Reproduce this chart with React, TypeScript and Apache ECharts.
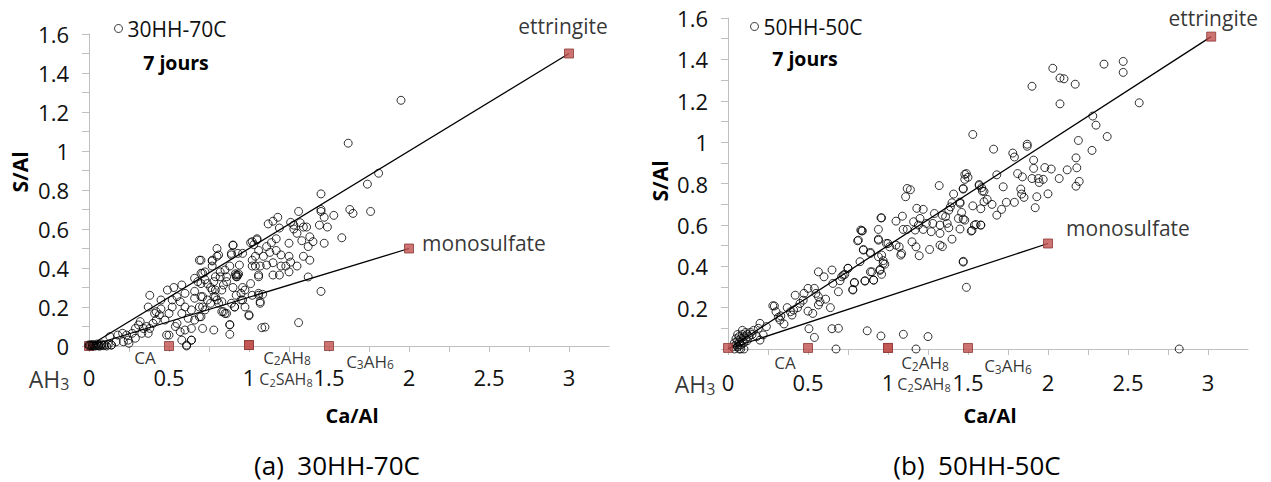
import React, { useEffect, useRef } from 'react';
import * as echarts from 'echarts';

const FONT = '"Open Sans", "Noto Sans", sans-serif';

// 30HH-70C, 7 jours : [Ca/Al, S/Al]
const points30: number[][] = [
  [0,0],[0.01,0.003],[0.02,0],[0.03,0.005],[0.04,0],[0.05,0.003],[0.06,0.005],[0.07,0],[0.08,0.004],[0.09,0.002],[0.1,0.005],[0.11,0],[0.12,0.006],[0.14,0.005],[0.02,0.008],[0.05,0.01],[0.08,0.01],[0,0.006],[0.03,0],[0.06,0],
  [0.17,0.022],[0.13,0.048],[0.18,0.056],[0.21,0.065],[0.25,0.014],[0.235,0.056],[0.27,0.065],[0.29,0.09],[0.31,0.108],[0.32,0.125],[0.29,0.04],[0.37,0.2],[0.36,0.1],[0.38,0.09],[0.37,0.065],[0.4,0.116],[0.42,0.133],[0.42,0.176],[0.44,0.16],[0.45,0.19],[0.49,0.287],[0.53,0.3],[0.58,0.313],[0.57,0.227],[0.52,0.2],[0.5,0.167],[0.475,0.133],[0.5,0.056],[0.55,0.116],[0.54,0.1],[0.58,0.167],[0.6,0.2],[0.64,0.185],[0.62,0.142],[0.66,0.133],[0.6,0.082],[0.64,0.09],[0.57,0.073],[0.58,0.03],[0.61,0.005],[0.64,0.03],[0.69,0.15],[0.71,0.09],[0.78,0.082],[0.88,0.108],[0.88,0.06],[1.0,0.155],[1.08,0.094],[0.69,0.44],[0.77,0.436],[0.8,0.5],[0.81,0.467],[0.7,0.373],[0.725,0.34],[0.77,0.287],[0.8,0.236],[0.83,0.176],[0.85,0.167],[0.9,0.518],[0.93,0.475],[0.89,0.475],[0.92,0.355],[1.02,0.535],[1.05,0.544],[1.06,0.49],[1.02,0.44],[1.04,0.41],[1.06,0.355],[1.06,0.27],[1.07,0.227],[0.975,0.287],[0.95,0.236],[0.91,0.2],[0.975,0.2],[0.38,0.26],[0.41,0.167],[0.45,0.236],[0.52,0.236],[0.55,0.253],[0.6,0.27],[0.66,0.28],[0.66,0.245],[0.7,0.253],[0.74,0.236],[0.71,0.2],[0.66,0.347],[0.68,0.33],[0.725,0.38],[0.76,0.3],[0.79,0.253],[0.81,0.219],[0.83,0.287],[0.86,0.33],[0.85,0.39],[0.82,0.38],[0.77,0.41],[0.79,0.355],[0.69,0.2],[0.33,0.065],[0.34,0.09],[0.245,0.03],[0.215,0.022],[0.485,0.056],[0.61,0],[0.64,0.03],[0.14,0.005],[0.88,0.11],
  [1.31,0.69],[1.45,0.69],[1.47,0.66],[1.44,0.62],[1.37,0.354],[1.45,0.28],[1.31,0.12],[1.1,0.097],[1.0,0.16],[1.26,0.634],[1.28,0.62],[1.32,0.632],[1.34,0.61],[1.36,0.61],[1.28,0.6],[1.33,0.54],[1.38,0.56],[1.4,0.535],[1.37,0.51],[1.3,0.578],[1.19,0.605],[1.15,0.64],[1.18,0.66],[1.12,0.626],[1.05,0.55],[1.01,0.53],[1.03,0.52],[1.11,0.51],[1.14,0.53],[1.17,0.55],[0.9,0.516],[0.8,0.46],[0.77,0.44],[0.7,0.44],[1.17,0.49],[1.2,0.467],[1.25,0.46],[1.26,0.43],[1.23,0.41],[1.2,0.41],[1.3,0.41],[1.34,0.46],[1.38,0.44],[1.25,0.38],[1.19,0.364],[1.15,0.364],[1.25,0.527],[0.93,0.364],[0.92,0.364],[0.915,0.37],[0.925,0.355],[0.935,0.37],[1.06,0.364],[1.07,0.41],[1.11,0.415],[1.15,0.427],[1.02,0.41],[1.04,0.46],[1.09,0.46],[1.13,0.48],[0.96,0.475],[0.89,0.467],[0.94,0.415],[0.88,0.41],[0.86,0.355],[0.82,0.355],[0.78,0.33],[0.74,0.32],[0.84,0.313],[0.79,0.287],[0.9,0.3],[0.96,0.3],[1.01,0.32],[0.95,0.27],[0.92,0.26],[1.02,0.26],[0.96,0.236],[0.89,0.219],[0.83,0.227],[0.78,0.253],[0.76,0.219],[0.71,0.253],[0.84,0.176],[0.86,0.167],[0.91,0.2],[1.07,0.219],[1.06,0.26],[1.085,0.265],[0.71,0.373],[0.7,0.32],[0.725,0.185],[0.7,0.15],
  [1.95,1.26],[1.62,1.04],[1.81,0.886],[1.74,0.83],[1.63,0.7],[1.65,0.68],[1.76,0.69],[1.53,0.67],[1.49,0.61],[1.58,0.555],[1.47,0.527],[1.45,0.78],[1.45,0.7]
];

// 50HH-50C, 7 jours : [Ca/Al, S/Al]
const points50: number[][] = [
  [0.03,0.01],[0.04,0.03],[0.05,0.02],[0.05,0.05],[0.06,0.04],[0.06,0.01],[0.07,0.03],[0.07,0.06],[0.08,0.02],[0.08,0.05],[0.09,0.04],[0.09,0.07],[0.1,0.03],[0.1,0.06],[0.11,0.05],[0.11,0.08],[0.12,0.04],[0.12,0.07],[0.13,0.06],[0.14,0.08],[0.15,0.07],[0.16,0.09],[0.18,0.06],[0.19,0.1],[0.08,0],[0.1,0],[0.04,0],[0.06,0.07],[0.09,0.09],[0.07,0],
  [0.2,0.124],[0.24,0.108],[0.22,0.068],[0.2,0.043],[0.29,0.208],[0.325,0.14],[0.35,0.121],[0.315,0.153],[0.39,0.18],[0.4,0.164],[0.41,0.188],[0.42,0.26],[0.435,0.2],[0.45,0.22],[0.47,0.236],[0.475,0.269],[0.5,0.293],[0.5,0.183],[0.53,0.172],[0.54,0.293],[0.55,0.269],[0.565,0.253],[0.575,0.228],[0.565,0.213],[0.61,0.241],[0.64,0.2],[0.565,0.373],[0.6,0.349],[0.65,0.382],[0.655,0.317],[0.69,0.277],[0.71,0.349],[0.73,0.361],[0.75,0.39],[0.78,0.285],[0.79,0.32],[0.825,0.422],[0.856,0.33],[0.89,0.373],[0.91,0.333],[0.95,0.385],[0.97,0.414],[0.815,0.526],[0.83,0.575],[0.846,0.478],[0.89,0.462],[0.94,0.526],[1.0,0.51],[1.05,0.502],[1.085,0.462],[0.94,0.446],[0.506,0.098],[0.54,0.056],[0.65,0.098],[0.69,0.1],[0.675,0],[0.87,0.088],[0.956,0.063],[1.096,0.071],[1.25,0.06],[1.175,0],[0.28,0.209],[0.3,0.18],[0.33,0.16],[0.37,0.2],
  [1.32,0.79],[1.14,0.77],[1.11,0.736],[1.49,0.848],[1.48,0.82],[1.57,0.79],[1.585,0.78],[1.47,0.773],[1.41,0.749],[1.6,0.762],[1.4,0.707],[1.39,0.687],[1.38,0.671],[1.45,0.704],[1.22,0.675],[1.29,0.655],[1.34,0.646],[1.36,0.64],[0.956,0.634],[1.09,0.642],[1.05,0.618],[1.2,0.631],[1.16,0.615],[1.19,0.599],[1.24,0.607],[1.28,0.607],[1.325,0.599],[1.37,0.607],[1.44,0.631],[1.48,0.623],[1.54,0.599],[1.58,0.599],[1.095,0.578],[1.12,0.578],[1.17,0.575],[1.22,0.578],[1.27,0.567],[1.325,0.559],[1.38,0.586],[1.45,0.58],[1.52,0.57],[0.84,0.571],[0.81,0.523],[0.94,0.531],[0.99,0.51],[1.01,0.494],[1.07,0.494],[1.08,0.454],[1.15,0.518],[1.175,0.494],[1.195,0.451],[1.26,0.481],[1.325,0.502],[1.34,0.495],[1.4,0.531],[0.846,0.481],[0.89,0.467],[0.96,0.454],[0.97,0.427],[0.98,0.41],[0.96,0.361],[0.95,0.38],[0.9,0.373],[0.91,0.333],[0.856,0.328],[0.79,0.322],[0.78,0.288],[0.75,0.39],[0.72,0.357],[0.7,0.33],[1.47,0.42],[1.49,0.298],[1.12,0.776],[0.96,0.634],[0.835,0.571],[0.94,0.578],[1.18,0.68],[1.45,0.71],
  [2.03,1.357],[2.075,1.31],[2.1,1.306],[2.17,1.28],[1.9,1.27],[2.35,1.377],[2.47,1.39],[2.47,1.337],[2.075,1.185],[2.57,1.19],[2.28,1.126],[2.3,1.082],[2.37,1.027],[1.53,1.037],[2.19,1.008],[1.66,0.966],[1.87,0.99],[1.87,0.98],[1.78,0.947],[1.79,0.928],[2.275,0.96],[2.175,0.924],[1.91,0.913],[2.18,0.876],[2.195,0.81],[2.175,0.787],[2.12,0.866],[1.98,0.877],[2.02,0.87],[1.91,0.873],[2.07,0.824],[1.9,0.824],[1.94,0.824],[1.97,0.82],[1.945,0.805],[1.81,0.848],[1.84,0.832],[1.68,0.842],[1.72,0.784],[1.83,0.773],[1.835,0.749],[1.85,0.733],[1.93,0.736],[2.0,0.75],[1.92,0.683],[1.79,0.709],[1.74,0.709],[1.68,0.647],[1.71,0.675],[1.65,0.699],[1.62,0.723],[1.6,0.712],[1.58,0.678],[1.53,0.692],[1.59,0.763],[1.57,0.795],[1.48,0.844],[1.47,0.776],[1.58,0.599],[1.55,0.602],[1.525,0.573],[1.47,0.628],[1.47,0.424],[2.82,0],[1.5,0.83],[1.46,0.66]
];

// reference phases (Ca/Al, S/Al)
const phaseNames = ['AH3', 'CA', 'C2AH8', 'C2SAH8', 'C3AH6', 'monosulfate', 'ettringite'];
const phasesA: number[][] = [[0,0],[0.5,0],[1,0.005],[1,0.005],[1.5,0],[2,0.5],[3,1.5]];
const phasesB: number[][] = [[0,0.005],[0.5,0.005],[1,0.005],[1,0.005],[1.5,0.005],[2,0.51],[3.02,1.51]];
const ettringiteLineA: number[][] = [[0,0],[3,1.5]];
const monosulfateLineA: number[][] = [[0,0],[2,0.5]];
const ettringiteLineB: number[][] = [[0,0],[3.02,1.51]];
const monosulfateLineB: number[][] = [[0,0],[2,0.51]];

const xTicks = [0, 0.5, 1, 1.5, 2, 2.5, 3];
const yTicks = [0, 0.2, 0.4, 0.6, 0.8, 1, 1.2, 1.4, 1.6];

const INK = '#000';
const rich: any = {
  n: { fontSize: 17, lineHeight: 19, color: INK, fontFamily: FONT },
  s: { fontSize: 12, lineHeight: 12, verticalAlign: 'bottom', color: INK, fontFamily: FONT },
  m: { fontSize: 16, lineHeight: 18, color: INK, fontFamily: FONT },
  t: { fontSize: 11, lineHeight: 11, verticalAlign: 'bottom', color: INK, fontFamily: FONT },
  N: { fontSize: 23, lineHeight: 26, color: INK, fontFamily: FONT },
  S: { fontSize: 16, lineHeight: 16, verticalAlign: 'bottom', color: INK, fontFamily: FONT },
  big: { fontSize: 21, lineHeight: 24, color: INK, fontFamily: FONT }
};

const labelTexts: Record<string, string> = {
  AH3: '{N|AH}{S|3}',
  CA: '{n|CA}',
  C2AH8: '{n|C}{s|2}{n|AH}{s|8}',
  C2SAH8: '{m|C}{t|2}{m|SAH}{t|8}',
  C3AH6: '{n|C}{s|3}{n|AH}{s|6}',
  monosulfate: '{big|monosulfate}',
  ettringite: '{big|ettringite}'
};

const offsetsA: Record<string, number[]> = {
  AH3: [-40, 33], CA: [-24, 11], C2AH8: [38, 12], C2SAH8: [37, 34], C3AH6: [41, 15], monosulfate: [75, -6], ettringite: [-6, -28]
};
const offsetsB: Record<string, number[]> = {
  AH3: [-33, 36], CA: [-23, 15], C2AH8: [37, 15], C2SAH8: [36, 36], C3AH6: [40, 18], monosulfate: [80, -15], ettringite: [2, -19]
};

function phaseData(pts: number[][], offs: Record<string, number[]>) {
  return pts.map((p, i) => ({
    value: p,
    name: phaseNames[i],
    label: {
      show: true,
      position: 'inside',
      offset: offs[phaseNames[i]],
      formatter: labelTexts[phaseNames[i]],
      rich,
      color: INK,
      fontSize: 17,
      fontFamily: FONT,
      align: 'center',
      verticalAlign: 'middle'
    }
  }));
}

const fmt = (v: number) => String(Number(v.toFixed(2)));

function xAxis(gridIndex: number, margin: number) {
  return {
    gridIndex, type: 'value', min: 0, max: 3.25, interval: 0.25,
    axisLine: { show: true, onZero: false, lineStyle: { color: '#bfbfbf', width: 1 } },
    axisTick: { show: true, length: 6, lineStyle: { color: '#bfbfbf' } },
    splitLine: { show: false },
    axisLabel: {
      fontSize: 22, color: '#111', fontFamily: FONT, margin,
      formatter: (v: number) => (xTicks.some(t => Math.abs(t - v) < 1e-6) ? fmt(v) : ''),
      showMaxLabel: false
    }
  };
}
function yAxis(gridIndex: number, showZero: boolean) {
  return {
    gridIndex, type: 'value', min: 0, max: 1.6, interval: 0.1,
    axisLine: { show: true, onZero: false, lineStyle: { color: '#bfbfbf', width: 1 } },
    axisTick: { show: true, length: 7, lineStyle: { color: '#bfbfbf' } },
    splitLine: { show: false },
    axisLabel: {
      fontSize: 22, color: '#111', fontFamily: FONT, margin: 20,
      formatter: (v: number) => {
        if (!yTicks.some(t => Math.abs(t - v) < 1e-6)) return '';
        if (!showZero && Math.abs(v) < 1e-6) return '';
        return fmt(v);
      }
    }
  };
}

const hollow = { color: 'rgba(0,0,0,0)', borderColor: '#000', borderWidth: 1 };
const square = { color: '#c0504d', borderColor: '#8c3836', borderWidth: 1 };
const legendText = { fontSize: 21, color: '#111', fontFamily: FONT };

function txt(text: string, x: number, y: number, font: string, rotation = 0) {
  return {
    type: 'text', x, y, rotation, silent: true,
    style: { text, font, fill: INK, align: 'center', verticalAlign: 'middle' }
  };
}

export default function App() {
  const ref = useRef<HTMLDivElement>(null);
  useEffect(() => {
    document.body.style.margin = '0';
    const chart = echarts.init(ref.current!, undefined, { renderer: 'svg' });
    chart.setOption({
      animation: false,
      backgroundColor: '#fff',
      grid: [
        { left: 89, top: 34, width: 520, height: 312 },
        { left: 728, top: 18, width: 520, height: 331 }
      ],
      xAxis: [xAxis(0, 20), xAxis(1, 22)],
      yAxis: [yAxis(0, true), yAxis(1, false)],
      legend: [
        {
          left: 109, top: 13, data: [{ name: '30HH-70C', textStyle: legendText }], icon: 'circle', itemWidth: 8, itemHeight: 8,
          itemStyle: hollow, textStyle: legendText, selectedMode: false
        },
        {
          left: 745, top: 11, data: [{ name: '50HH-50C', textStyle: legendText }], icon: 'circle', itemWidth: 8, itemHeight: 8,
          itemStyle: hollow, textStyle: legendText, selectedMode: false
        }
      ],
      series: [
        { type: 'line', xAxisIndex: 0, yAxisIndex: 0, data: ettringiteLineA, symbol: 'none', lineStyle: { color: '#000', width: 1.3 }, z: 1 },
        { type: 'line', xAxisIndex: 0, yAxisIndex: 0, data: monosulfateLineA, symbol: 'none', lineStyle: { color: '#000', width: 1.3 }, z: 1 },
        { type: 'scatter', xAxisIndex: 0, yAxisIndex: 0, data: phaseData(phasesA, offsetsA), symbol: 'rect', symbolSize: 9, itemStyle: square, z: 2 },
        { name: '30HH-70C', type: 'scatter', xAxisIndex: 0, yAxisIndex: 0, data: points30, symbol: 'circle', symbolSize: 8, itemStyle: hollow, z: 3 },
        { type: 'line', xAxisIndex: 1, yAxisIndex: 1, data: ettringiteLineB, symbol: 'none', lineStyle: { color: '#000', width: 1.3 }, z: 1 },
        { type: 'line', xAxisIndex: 1, yAxisIndex: 1, data: monosulfateLineB, symbol: 'none', lineStyle: { color: '#000', width: 1.3 }, z: 1 },
        { name: '50HH-50C', type: 'scatter', xAxisIndex: 1, yAxisIndex: 1, data: points50, symbol: 'circle', symbolSize: 8, itemStyle: hollow, z: 2 },
        { type: 'scatter', xAxisIndex: 1, yAxisIndex: 1, data: phaseData(phasesB, offsetsB), symbol: 'rect', symbolSize: 9, itemStyle: square, z: 3 }
      ],
      graphic: [
        txt('S/Al', 20, 172, `bold 21px ${FONT}`, Math.PI / 2),
        txt('S/Al', 660, 181, `bold 21px ${FONT}`, Math.PI / 2),
        txt('7 jours', 176, 62, `bold 19.5px ${FONT}`),
        txt('7 jours', 805, 58, `bold 19.5px ${FONT}`),
        txt('Ca/Al', 352, 415, `bold 20px ${FONT}`),
        txt('Ca/Al', 990, 415, `bold 20px ${FONT}`),
        txt('(a)  30HH-70C', 337, 465, `26px ${FONT}`),
        txt('(b)  50HH-50C', 977, 465, `26px ${FONT}`)
      ]
    });
    return () => chart.dispose();
  }, []);
  return <div ref={ref} style={{ width: 1271, height: 482 }} />;
}
